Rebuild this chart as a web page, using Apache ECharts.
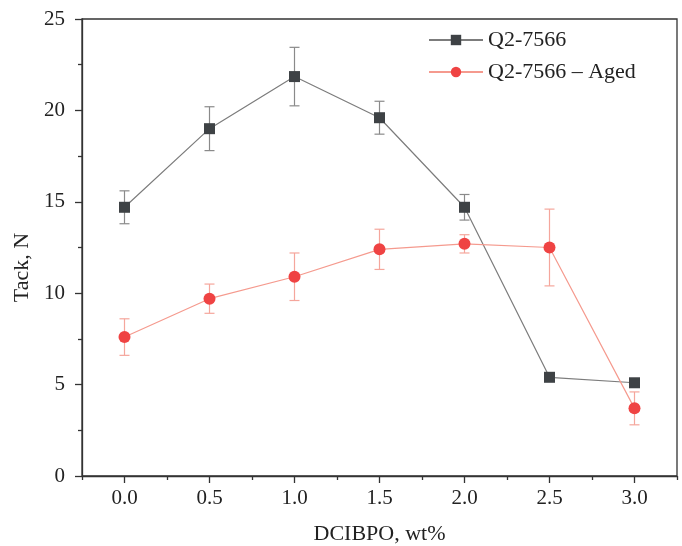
<!DOCTYPE html>
<html>
<head>
<meta charset="utf-8">
<script src="https://cdn.jsdelivr.net/npm/echarts@6/dist/echarts.min.js"></script>
<style>html,body{margin:0;padding:0;background:#fff}#c{width:682px;height:546px}</style>
</head>
<body>
<div id="c"></div>
<script>
const xValues = [0.0, 0.5, 1.0, 1.5, 2.0, 2.5, 3.0];
const freshName = 'Q2-7566';
const agedName = 'Q2-7566 – Aged';
const freshTack = [14.7, 19.0, 21.85, 19.6, 14.7, 5.4, 5.1];
const freshErr = [0.9, 1.2, 1.6, 0.9, 0.7, 0.05, 0.2];
const agedTack = [7.6, 9.7, 10.9, 12.4, 12.7, 12.5, 3.7];
const agedErr = [1.0, 0.8, 1.3, 1.1, 0.5, 2.1, 0.9];
const xTickLabels = [0.0, 0.5, 1.0, 1.5, 2.0, 2.5, 3.0];
const xMinorTicks = [-0.25, 0.25, 0.75, 1.25, 1.75, 2.25, 2.75, 3.25];

const FONT = 'Liberation Serif';
const TXT = '#222';
const AX = '#333';

function errSeries(name, vals, errs, color) {
  return {
    name: name,
    type: 'custom',
    xAxisIndex: 0, yAxisIndex: 0,
    silent: true,
    data: xValues.map((x, i) => [x, vals[i] - errs[i], vals[i] + errs[i]]),
    encode: { x: 0, y: [1, 2] },
    renderItem: function (params, api) {
      const x = api.value(0);
      const lo = api.coord([x, api.value(1)]);
      const hi = api.coord([x, api.value(2)]);
      const w = 5;
      const st = { stroke: color, lineWidth: 1.2 };
      return {
        type: 'group',
        children: [
          { type: 'line', shape: { x1: lo[0], y1: lo[1], x2: hi[0], y2: hi[1] }, style: st },
          { type: 'line', shape: { x1: lo[0] - w, y1: lo[1], x2: lo[0] + w, y2: lo[1] }, style: st },
          { type: 'line', shape: { x1: hi[0] - w, y1: hi[1], x2: hi[0] + w, y2: hi[1] }, style: st }
        ]
      };
    }
  };
}

const chart = echarts.init(document.getElementById('c'), null, { renderer: 'canvas' });
chart.setOption({
  backgroundColor: '#fff',
  animation: false,
  textStyle: { fontFamily: FONT },
  grid: { left: 82, right: 5, top: 19, bottom: 70, containLabel: false, outerBoundsMode: 'none', show: true, borderColor: AX, borderWidth: 1.3, backgroundColor: 'transparent' },
  legend: {
    data: [freshName, agedName],
    orient: 'vertical',
    left: 428, top: 29,
    padding: 0,
    itemWidth: 54, itemHeight: 13, itemGap: 10,
    textStyle: { fontFamily: FONT, fontSize: 22, color: TXT }
  },
  xAxis: [
    {
      type: 'value', min: -0.25, max: 3.25,
      name: 'DCIBPO, wt%', nameLocation: 'middle', nameGap: 47,
      nameTextStyle: { fontFamily: FONT, fontSize: 22, color: TXT },
      axisLine: { show: true, onZero: false, lineStyle: { color: AX, width: 1.3 } },
      axisTick: { show: true, inside: false, length: 7, customValues: xTickLabels, lineStyle: { color: AX, width: 1.3 } },
      axisLabel: { show: true, customValues: xTickLabels, margin: 12, fontFamily: FONT, fontSize: 21, color: TXT, formatter: v => v.toFixed(1) },
      splitLine: { show: false }
    },
    {
      type: 'value', min: -0.25, max: 3.25, position: 'bottom',
      axisLine: { show: false, onZero: false },
      axisTick: { show: true, inside: false, length: 4, customValues: xMinorTicks, lineStyle: { color: AX, width: 1.3 } },
      axisLabel: { show: false },
      splitLine: { show: false }
    }
  ],
  yAxis: {
    type: 'value', min: 0, max: 25, interval: 5,
    name: 'Tack, N', nameLocation: 'middle', nameGap: 46, nameRotate: 90,
    nameTextStyle: { fontFamily: FONT, fontSize: 22, color: TXT, padding: [0, 40, 0, 0] },
    axisLine: { show: true, onZero: false, lineStyle: { color: AX, width: 1.3 } },
    axisTick: { show: true, inside: false, length: 7, lineStyle: { color: AX, width: 1.3 } },
    minorTick: { show: true, splitNumber: 2, length: 4, lineStyle: { color: AX, width: 1.3 } },
    axisLabel: { margin: 17, fontFamily: FONT, fontSize: 21, color: TXT },
    splitLine: { show: false }
  },
  series: [
    errSeries('freshErr', freshTack, freshErr, '#8a8a8a'),
    {
      name: freshName, type: 'line', xAxisIndex: 0,
      data: xValues.map((x, i) => [x, freshTack[i]]),
      symbol: 'rect', symbolSize: 11,
      itemStyle: { color: '#3e4245' },
      lineStyle: { color: '#7c7c7c', width: 1.2 }
    },
    errSeries('agedErr', agedTack, agedErr, '#f5a69c'),
    {
      name: agedName, type: 'line', xAxisIndex: 0,
      data: xValues.map((x, i) => [x, agedTack[i]]),
      symbol: 'circle', symbolSize: 12,
      itemStyle: { color: '#ef4343' },
      lineStyle: { color: '#f59a8e', width: 1.2 }
    }
  ]
});
</script>
</body>
</html>
